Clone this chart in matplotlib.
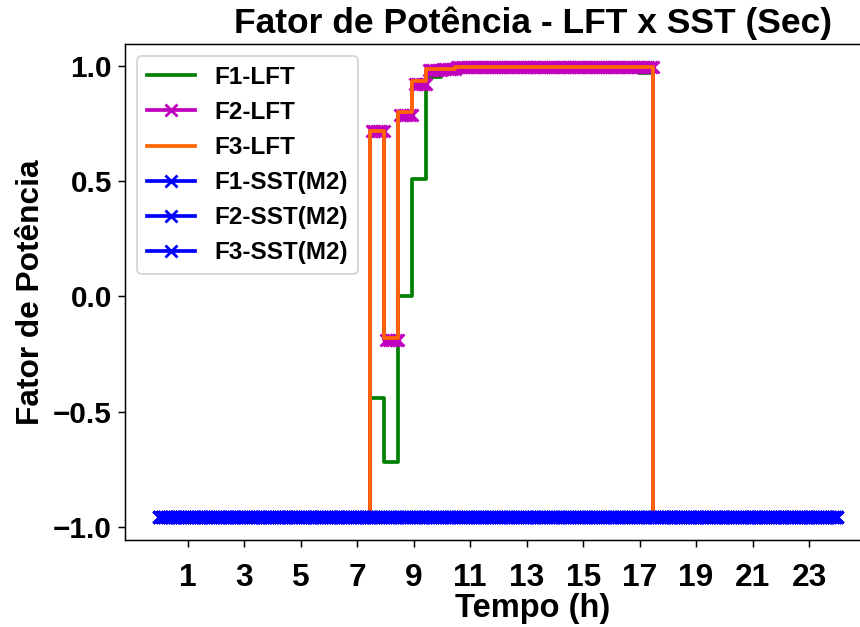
import numpy as np
import matplotlib
matplotlib.use("Agg")
import matplotlib.pyplot as plt

plt.rcParams["font.family"] = ["Liberation Sans", "DejaVu Sans"]
plt.rcParams["font.weight"] = "bold"

# 5-minute samples over one day
N_SAMPLES = 288
SAMPLES_PER_BLOCK = 6  # half-hour blocks

# power factor outside the generation window (all feeders)
NIGHT_PF = -0.96
DAY_START_BLOCK = 15   # 07:30
DAY_END_BLOCK = 35     # 17:30

# half-hour values from 07:30 to 17:30
f1_lft_day = [-0.44, -0.72, 0.0, 0.51, 0.955, 0.97, 0.985, 0.99, 0.99, 0.99,
              0.99, 0.99, 0.99, 0.99, 0.99, 0.99, 0.99, 0.99, 0.99, 0.97]
f2_lft_day = [0.72, -0.19, 0.79, 0.925, 0.985, 0.99, 0.995, 0.998, 0.998, 0.998,
              0.998, 0.998, 0.998, 0.998, 0.998, 0.998, 0.998, 0.998, 0.998, 0.998]
f3_lft_day = [0.72, -0.18, 0.80, 0.935, 0.99, 0.99, 0.997, 0.999, 0.999, 0.999,
              0.999, 0.999, 0.999, 0.999, 0.999, 0.999, 0.999, 0.999, 0.999, 0.999]

# SST secondary side keeps a fixed power factor all day
sst_pf = -0.96

labels = ["F1-LFT", "F2-LFT", "F3-LFT", "F1-SST(M2)", "F2-SST(M2)", "F3-SST(M2)"]
xticks = list(range(1, 24, 2))


def full_day(day_values):
    blocks = ([NIGHT_PF] * DAY_START_BLOCK + list(day_values)
              + [NIGHT_PF] * (48 - DAY_END_BLOCK))
    return np.repeat(blocks, SAMPLES_PER_BLOCK)


t = np.linspace(0, 24, N_SAMPLES)
f1_lft = full_day(f1_lft_day)
f2_lft = full_day(f2_lft_day)
f3_lft = full_day(f3_lft_day)
sst = np.full(N_SAMPLES, sst_pf)

fig = plt.figure(figsize=(860 / 134, 627 / 134), dpi=134)
# axes runs past the right edge of the canvas
ax = fig.add_axes([125 / 860, 87 / 627, 816 / 860, 496 / 627])

lw = 2.0
mk = dict(marker="x", ms=6, mew=1.5)
ax.step(t, f1_lft, color="green", lw=lw, label=labels[0])
ax.step(t, f2_lft, color="m", lw=lw, label=labels[1], **mk)
ax.step(t, f3_lft, color="#ff6600", lw=lw, label=labels[2])
for lab in labels[3:]:
    ax.step(t, sst, color="blue", lw=lw, label=lab, **mk)

ax.set_xlim(-1.22, 27.67)
ax.set_xticks(xticks)
ax.tick_params(axis="x", labelsize=17, pad=9)
ax.tick_params(axis="y", labelsize=16)
for tl in ax.get_xticklabels() + ax.get_yticklabels():
    tl.set_fontweight("bold")
ax.set_xlabel("Tempo (h)", fontsize=17.5, fontweight="bold", labelpad=0)
ax.set_ylabel("Fator de Potência", fontsize=17, fontweight="bold")
ax.set_title("Fator de Potência - LFT x SST (Sec)", fontsize=19, fontweight="bold")
ax.legend(loc="upper left", fontsize=13)

fig.savefig("out.png", dpi=134)
